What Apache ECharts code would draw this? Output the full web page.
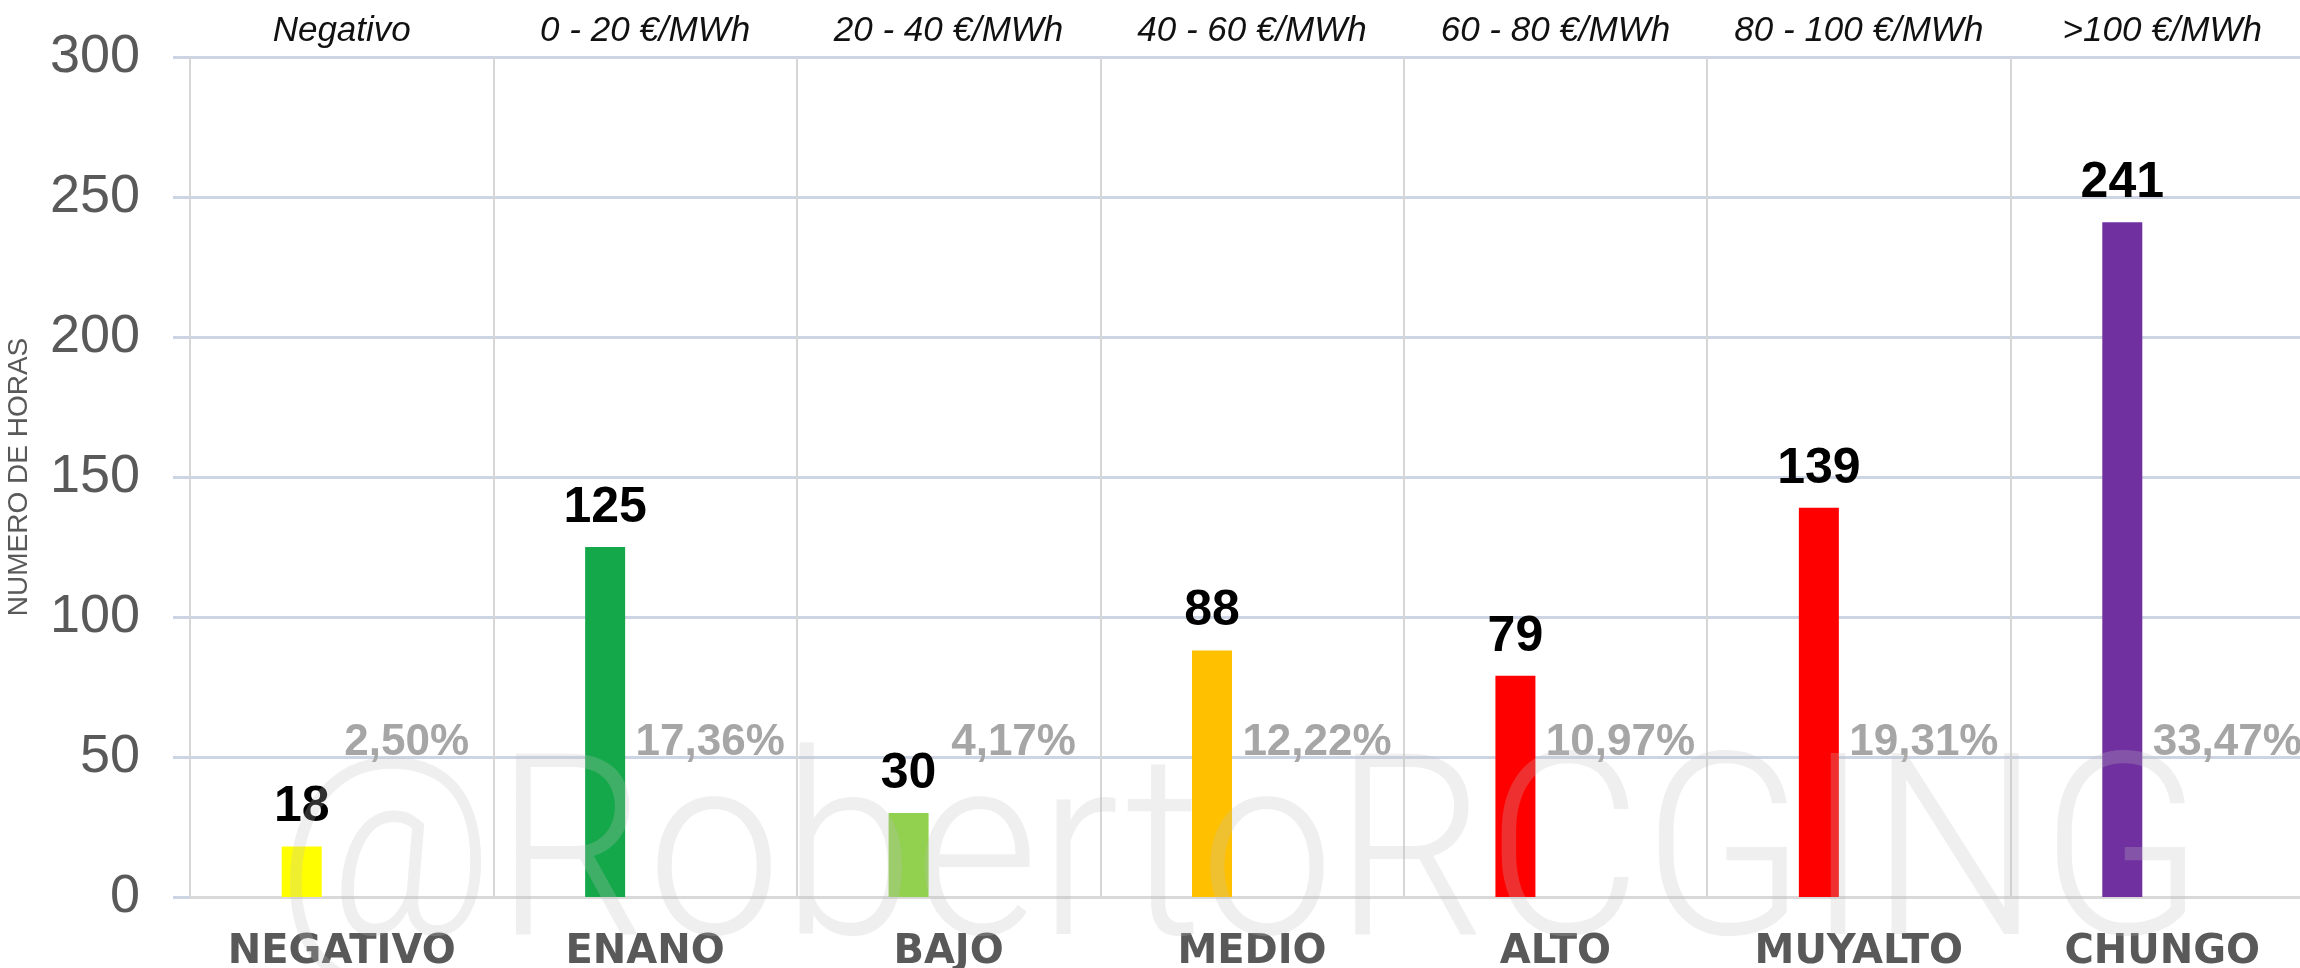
<!DOCTYPE html>
<html>
<head>
<meta charset="utf-8">
<script src="https://cdn.jsdelivr.net/npm/echarts@6/dist/echarts.min.js"></script>
<style>
html,body{margin:0;padding:0;background:#fff;}
#chart{width:2300px;height:968px;}
</style>
</head>
<body>
<div id="chart"></div>
<script>
const categories = ['NEGATIVO', 'ENANO', 'BAJO', 'MEDIO', 'ALTO', 'MUYALTO', 'CHUNGO'];
const rangeLabels = ['Negativo', '0 - 20 €/MWh', '20 - 40 €/MWh', '40 - 60 €/MWh', '60 - 80 €/MWh', '80 - 100 €/MWh', '>100 €/MWh'];
const hours = [18, 125, 30, 88, 79, 139, 241];
const percents = [2.50, 17.36, 4.17, 12.22, 10.97, 19.31, 33.47];
const barColors = ['#FFFF00', '#14A84A', '#92D050', '#FFC000', '#FF0000', '#FF0000', '#7030A0'];
const yTicks = [0, 50, 100, 150, 200, 250, 300];
const yAxisTitle = 'NUMERO DE HORAS';
const watermark = '@RobertoRCGING';

const narrow = "'Liberation Sans Narrow', 'Arial Narrow', 'Liberation Sans', sans-serif";

const chart = echarts.init(document.getElementById('chart'), null, {renderer: 'canvas'});
chart.setOption({
  backgroundColor: '#ffffff',
  animation: false,
  grid: {left: 190, right: -14, top: 57, bottom: 71, containLabel: false, outerBoundsMode: 'none'},
  xAxis: [
    {
      type: 'category',
      data: categories,
      position: 'bottom',
      axisLine: {show: true, lineStyle: {color: '#d9d9d9', width: 3}},
      axisTick: {show: false},
      splitLine: {show: true, lineStyle: {color: '#d6d6d6', width: 2}},
      axisLabel: {
        interval: 0,
        margin: 36,
        color: '#595959',
        fontFamily: "'DejaVu Sans', sans-serif",
        fontWeight: 'bold',
        fontSize: 40
      }
    },
    {
      type: 'category',
      data: rangeLabels,
      position: 'top',
      axisLine: {show: false},
      axisTick: {show: false},
      splitLine: {show: false},
      axisLabel: {
        interval: 0,
        margin: 8,
        color: '#111111',
        fontFamily: "'Liberation Sans', sans-serif",
        fontStyle: 'italic',
        fontSize: 35
      }
    }
  ],
  yAxis: [
    {
      type: 'value',
      min: yTicks[0],
      max: yTicks[yTicks.length - 1],
      interval: 50,
      name: yAxisTitle,
      nameLocation: 'middle',
      nameGap: 157,
      nameTextStyle: {color: '#595959', fontSize: 28, fontFamily: "'Liberation Sans', sans-serif"},
      axisLine: {show: true, lineStyle: {color: '#d6d6d6', width: 2}},
      axisTick: {show: true, length: 17, lineStyle: {color: '#cdd5e4', width: 3}},
      splitLine: {show: true, lineStyle: {color: '#cdd5e4', width: 3}},
      axisLabel: {
        margin: 50,
        color: '#595959',
        fontFamily: "'Liberation Sans', sans-serif",
        fontSize: 54
      }
    },
    {
      type: 'value',
      min: 0,
      max: 100,
      show: false,
      splitLine: {show: false}
    }
  ],
  series: [
    {
      name: 'Horas',
      type: 'bar',
      data: hours.map((v, i) => ({value: v, itemStyle: {color: barColors[i]}})),
      barWidth: 40,
      barGap: '100%',
      z: 2,
      label: {
        show: true,
        position: 'top',
        distance: 14,
        color: '#000000',
        fontFamily: narrow,
        fontWeight: 'bold',
        fontSize: 50
      }
    },
    {
      name: 'Porcentaje',
      type: 'bar',
      yAxisIndex: 1,
      data: percents,
      barWidth: 40,
      itemStyle: {color: 'rgba(0,0,0,0)'},
      z: 2,
      label: {
        show: true,
        position: 'insideBottom',
        distance: 0,
        offset: [25, -132],
        color: '#a6a6a6',
        fontFamily: narrow,
        fontWeight: 'bold',
        fontSize: 44,
        formatter: p => p.value.toFixed(2).replace('.', ',') + '%'
      }
    }
  ],
  graphic: [
    {
      type: 'text',
      z: 100,
      x: 1240,
      y: 870,
      scaleX: 0.94,
      silent: true,
      style: {
        text: watermark,
        x: 0,
        y: 0,
        align: 'center',
        verticalAlign: 'middle',
        fontFamily: "Roboto, 'Liberation Sans', sans-serif",
        fontWeight: 300,
        fontSize: 255,
        fill: 'rgba(190,190,190,0.25)'
      }
    }
  ]
});
</script>
</body>
</html>
